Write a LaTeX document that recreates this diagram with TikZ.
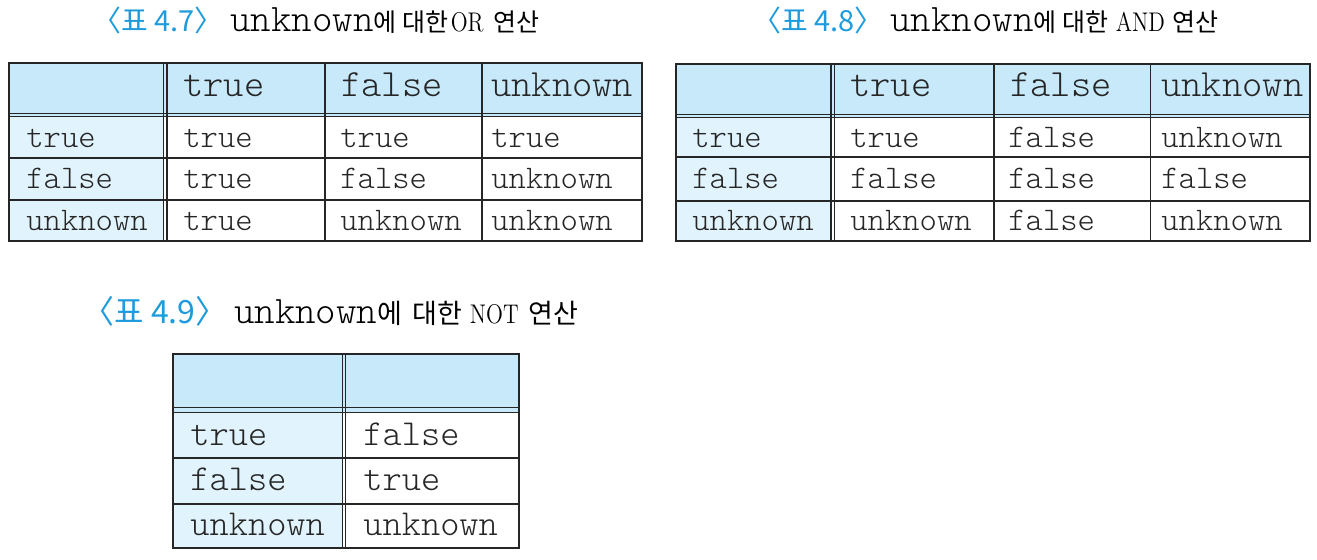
\documentclass[tikz,border=0pt]{standalone}
\usepackage{fontspec}
\setmonofont{lmmonolt10-regular.otf}
\newfontfamily\krfont{Noto Sans CJK KR}
\definecolor{capblue}{RGB}{30,155,220}
\definecolor{hdrblue}{RGB}{199,233,250}
\definecolor{sideblue}{RGB}{225,244,253}

\newcommand\capnum[2][14.5]{{\krfont\fontsize{#1}{16}\selectfont\color{capblue}〈표 #2〉}}
\newcommand\capkr[2][12.5]{{\krfont\fontsize{#1}{16}\selectfont #2}}
\newcommand\capunk{{\ttfamily\fontsize{19.5}{22}\selectfont unknown}}
\newcommand\caprm[1]{\scalebox{0.82}[1]{\fontsize{13.5}{16}\selectfont #1}}

\begin{document}
\begin{tikzpicture}[
    x=0.5pt, y=-0.5pt,
    hdrfill/.style={fill=hdrblue},
    sidefill/.style={fill=sideblue},
    gridline/.style={draw=black!85, line width=0.9pt},
    dbl/.style={draw=black!85, line width=0.6pt},
    caption/.style={anchor=base west, inner sep=0pt},
    cell/.style={anchor=base west, inner sep=0pt, text=black!85,
                 font=\ttfamily\fontsize{16.5}{18}\selectfont},
    hcell/.style={cell, font=\ttfamily\fontsize{19.3}{20}\selectfont},
    bigcell/.style={cell, font=\ttfamily\fontsize{18.3}{20}\selectfont},
]
\useasboundingbox (0,0) rectangle (1317,559);

% OR
\node[caption] (cap-or) at (92,31) {\capnum{4.7}\ \capunk\capkr{에\hspace{3pt}대한}\hspace{1pt}\caprm{OR}\hspace{5pt}\capkr{연산}};
\fill[hdrfill] (9,63) rectangle (642,116.7);
\fill[sidefill] (9,116.7) rectangle (163.7,240.7);
\draw[gridline] (9,63) rectangle (642,240.7);
\foreach \y in {158.3,200} \draw[gridline] (9,\y) -- (642,\y);
\foreach \y in {113.3,116.7} \draw[dbl] (9,\y) -- (642,\y);
\foreach \x in {163.7,167} \draw[dbl] (\x,63) -- (\x,240.7);
\foreach \x in {324.7,482.3} \draw[gridline] (\x,63) -- (\x,240.7);
\node[hcell] (or-h-b) at (183,96) {true};
\node[hcell] (or-h-c) at (341,96) {false};
\node[hcell] (or-h-d) at (491,96) {unknown};
\foreach \a/\b/\c/\d [count=\i] in {true/true/true/true,
    false/true/false/unknown, unknown/true/unknown/unknown} {
  \pgfmathsetmacro\yb{105.5+41.5*\i}
  \node[cell] (or-\i-a) at (26,\yb) {\a};
  \node[cell] (or-\i-b) at (183,\yb) {\b};
  \node[cell] (or-\i-c) at (340,\yb) {\c};
  \node[cell] (or-\i-d) at (491,\yb) {\d};
}

% AND
\node[caption] (cap-and) at (752,31) {\capnum{4.8}\ \capunk\capkr{에\hspace{3pt}대한}\hspace{3.5pt}\caprm{AND}\hspace{4pt}\capkr{연산}};
\fill[hdrfill] (676,64) rectangle (1310,117.3);
\fill[sidefill] (676,117.3) rectangle (831,240.7);
\draw[gridline] (676,64) rectangle (1310,240.7);
\foreach \y in {157.3,200.7} \draw[gridline] (676,\y) -- (1310,\y);
\foreach \y in {114.3,117.3} \draw[dbl] (676,\y) -- (1310,\y);
\foreach \x in {831,834.5} \draw[dbl] (\x,64) -- (\x,240.7);
\foreach \x in {994,1150.4} \draw[gridline] (\x,64) -- (\x,240.7);
\node[hcell] (and-h-b) at (850,96) {true};
\node[hcell] (and-h-c) at (1010,96) {false};
\node[hcell] (and-h-d) at (1161,96) {unknown};
\foreach \a/\b/\c/\d [count=\i] in {true/true/false/unknown,
    false/false/false/false, unknown/unknown/false/unknown} {
  \pgfmathsetmacro\yb{105.5+41.5*\i}
  \node[cell] (and-\i-a) at (692,\yb) {\a};
  \node[cell] (and-\i-b) at (850,\yb) {\b};
  \node[cell] (and-\i-c) at (1008,\yb) {\c};
  \node[cell] (and-\i-d) at (1161,\yb) {\d};
}

% NOT
\node[caption] (cap-not) at (82,323) {\capnum[16]{4.9}\ \capunk\capkr[13.5]{에\hspace{5pt}대한}\hspace{4pt}\caprm{NOT}\hspace{5pt}\capkr[13.5]{연산}};
\fill[hdrfill] (173.3,354.3) rectangle (519,412.7);
\fill[sidefill] (173.3,412.7) rectangle (342.7,548);
\draw[gridline] (173.3,354.3) rectangle (519,548);
\foreach \y in {458,504} \draw[gridline] (173.3,\y) -- (519,\y);
\foreach \y in {407.3,412.7} \draw[dbl] (173.3,\y) -- (519,\y);
\foreach \x in {342.7,345.3} \draw[dbl] (\x,354.3) -- (\x,548);
\foreach \a/\b [count=\i] in {true/false, false/true, unknown/unknown} {
  \pgfmathsetmacro\yb{400+45*\i}
  \node[bigcell] (not-\i-a) at (190,\yb) {\a};
  \node[bigcell] (not-\i-b) at (363,\yb) {\b};
}
\end{tikzpicture}
\end{document}
